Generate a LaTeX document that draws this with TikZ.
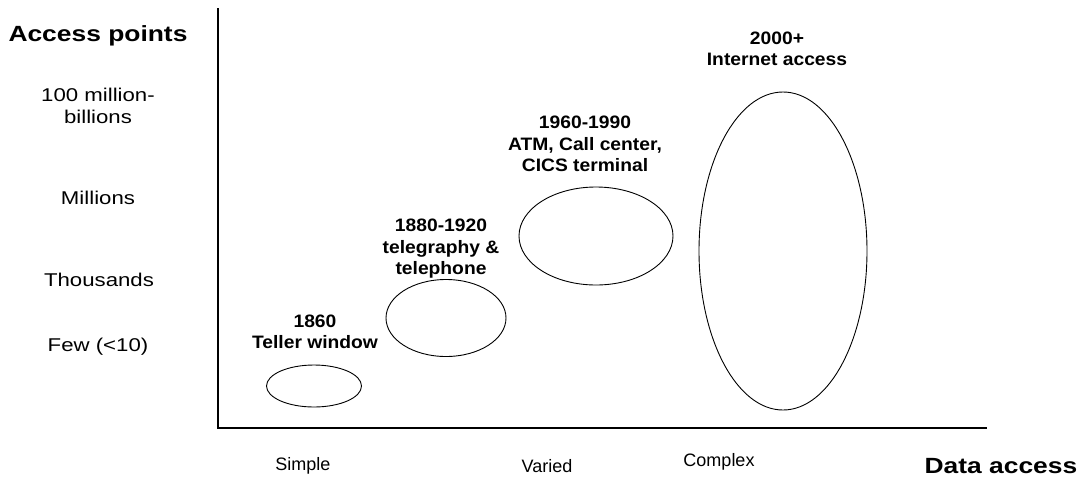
\documentclass[tikz,border=0pt]{standalone}
\usepackage{fontspec}
\setmainfont{Liberation Sans}
\usetikzlibrary{shapes.geometric}
\begin{document}
\begin{tikzpicture}[x=1pt,y=-1pt,
  axis/.style={line width=1.4pt},
  blob/.style={ellipse, draw, line width=0.9pt, inner sep=0pt},
  title/.style={font=\bfseries\fontsize{22}{26}\selectfont, align=center, xscale=1.2, transform shape, inner sep=0pt},
  lvl/.style={font=\fontsize{18.5}{22}\selectfont, align=center, xscale=1.2, transform shape, inner sep=0pt},
  cat/.style={font=\fontsize{18}{22}\selectfont, align=center, inner sep=0pt},
  ann/.style={font=\bfseries\fontsize{18}{21.5}\selectfont, align=center, xscale=1.07, transform shape, inner sep=0pt}]
\useasboundingbox (0,0) rectangle (1079,480);
% axes
\coordinate (top) at (218,8);
\coordinate (origin) at (218,428);
\coordinate (xend) at (987,428);
\draw[axis] (top) -- (origin) -- (xend);
% axis titles
\node[title] (ytitle) at (98,36) {Access points};
\node[title] (xtitle) at (1001,466) {Data access};
% level labels
\node[lvl] (l4) at (98,106) {100 million-\\billions};
\node[lvl] (l3) at (98,198) {Millions};
\node[lvl] (l2) at (99,280) {Thousands};
\node[lvl] (l1) at (98,347) {Few (<10)};
% category labels
\node[cat] (c1) at (303,466) {Simple};
\node[cat] (c2) at (547,466) {Varied};
\node[cat] (c3) at (719,462) {Complex};
% ellipses
\node[blob, minimum width=95pt, minimum height=42pt] (e1) at (314,386) {};
\node[blob, minimum width=120pt, minimum height=77pt] (e2) at (446,318) {};
\node[blob, minimum width=154pt, minimum height=98pt] (e3) at (596,236) {};
\node[blob, minimum width=168pt, minimum height=318pt] (e4) at (783,251) {};
% annotations
\node[ann] (a1) at (315,332) {1860\\Teller window};
\node[ann] (a2) at (441,249) {1880-1920\\telegraphy \&\\telephone};
\node[ann] (a3) at (585,144) {1960-1990\\ATM, Call center,\\CICS terminal};
\node[ann] (a4) at (777,49) {2000+\\Internet access};
\end{tikzpicture}
\end{document}
